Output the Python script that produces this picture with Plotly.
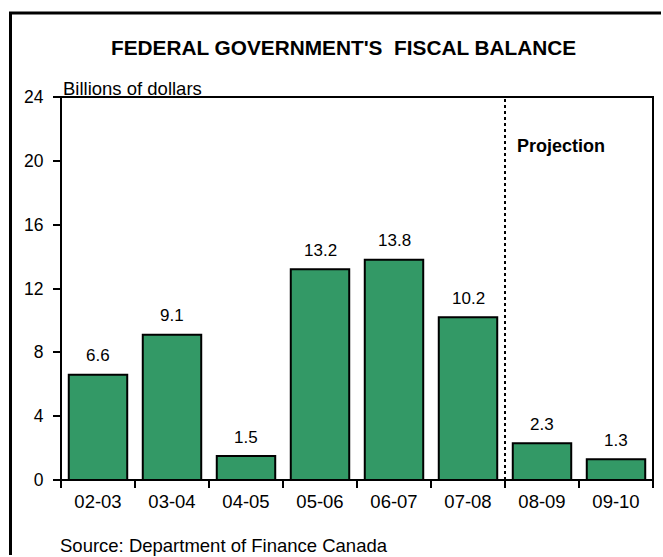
import plotly.graph_objects as go

categories = ["02-03", "03-04", "04-05", "05-06", "06-07", "07-08", "08-09", "09-10"]
values = [6.6, 9.1, 1.5, 13.2, 13.8, 10.2, 2.3, 1.3]
value_labels = ["6.6", "9.1", "1.5", "13.2", "13.8", "10.2", "2.3", "1.3"]
y_ticks = [0, 4, 8, 12, 16, 20, 24]

FONT = "Liberation Sans, Arial, sans-serif"
W, H = 663, 557
L, R, T, B = 61, 10, 97, 77
pw, ph = W - L - R, H - T - B

def px_x(px):
    return (px - L) / pw

def px_y(py):
    return (H - B - py) / ph

fig = go.Figure()
fig.add_trace(go.Bar(
    x=categories, y=values,
    marker=dict(color="#339966", line=dict(color="black", width=2)),
    width=0.79,
    hoverinfo="skip",
))

annotations = []
for c, v, t in zip(categories, values, value_labels):
    annotations.append(dict(x=c, y=v, text=t, showarrow=False, xref="x", yref="y",
                            yanchor="middle", yshift=19,
                            font=dict(family=FONT, size=17, color="black")))

annotations += [
    dict(text="<b>FEDERAL GOVERNMENT'S  FISCAL BALANCE</b>", x=px_x(343), y=px_y(48),
         xref="paper", yref="paper", showarrow=False, xanchor="center", yanchor="middle",
         font=dict(family=FONT, size=20.8, color="black")),
    dict(text="Billions of dollars", x=px_x(61), y=px_y(88), xref="paper", yref="paper",
         showarrow=False, xanchor="left", yanchor="middle",
         font=dict(family=FONT, size=18.5, color="black")),
    dict(text="<b>Projection</b>", x=px_x(515), y=px_y(146), xref="paper", yref="paper",
         showarrow=False, xanchor="left", yanchor="middle",
         font=dict(family=FONT, size=18, color="black")),
    dict(text="Source: Department of Finance Canada", x=px_x(58), y=px_y(545),
         xref="paper", yref="paper", showarrow=False, xanchor="left", yanchor="middle",
         font=dict(family=FONT, size=18.5, color="black")),
]

shapes = [
    dict(type="line", xref="x", yref="paper", x0=5.5, x1=5.5, y0=0, y1=1,
         line=dict(color="black", width=2, dash="dot")),
    dict(type="rect", xref="paper", yref="paper", x0=0, x1=1, y0=0, y1=1,
         line=dict(color="black", width=2), fillcolor="rgba(0,0,0,0)", layer="above"),
    dict(type="line", xref="paper", yref="paper", x0=px_x(9), x1=px_x(661),
         y0=px_y(13), y1=px_y(13), line=dict(color="black", width=3)),
    dict(type="line", xref="paper", yref="paper", x0=px_x(10.5), x1=px_x(10.5),
         y0=px_y(12), y1=px_y(555), line=dict(color="black", width=3)),
]

fig.update_layout(
    width=W, height=H,
    margin=dict(l=L, r=R, t=T, b=B, pad=0),
    paper_bgcolor="white", plot_bgcolor="white",
    showlegend=False,
    annotations=annotations,
    shapes=shapes,
    bargap=0.2,
    dragmode=False,
    font=dict(family=FONT, size=16, color="black"),
)
fig.update_xaxes(
    type="category", showline=False,
    ticks="outside", tickson="boundaries", ticklen=7, tickwidth=2, tickcolor="black",
    showgrid=False, tickfont=dict(family=FONT, size=18.5, color="black"),
    ticklabelstandoff=8,
    range=[-0.5, 7.5],
)
fig.update_yaxes(
    range=[0, 24], tickvals=y_ticks, showline=False,
    ticks="outside", ticklen=7, tickwidth=2, tickcolor="black",
    showgrid=False, zeroline=False, tickfont=dict(family=FONT, size=17.5, color="black"),
    ticklabelstandoff=6,
)

fig.write_html(
    "out.html",
    config={"staticPlot": True, "displayModeBar": False},
    post_script="document.documentElement.style.overflow='hidden';"
                "document.body.style.overflow='hidden';document.body.style.margin='0';",
)
